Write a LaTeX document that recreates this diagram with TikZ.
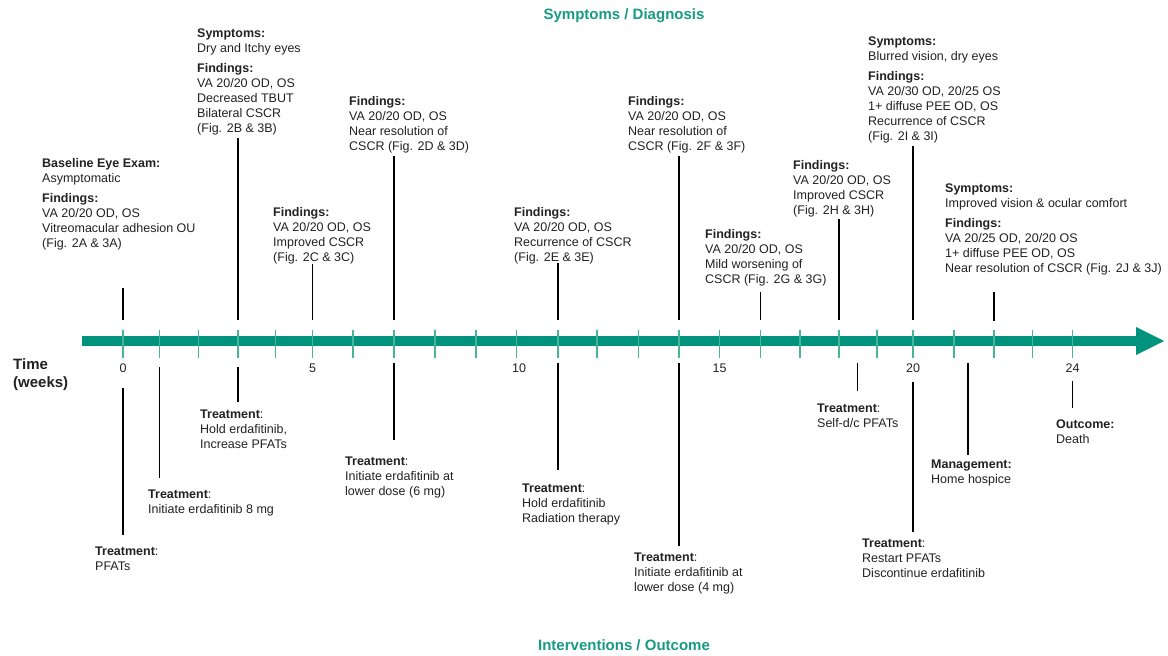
\documentclass[tikz,border=0pt]{standalone}
\usepackage{fontspec}
\setmainfont{Liberation Sans}
\definecolor{tealbar}{RGB}{0,148,126}
\definecolor{tealtick}{RGB}{72,180,154}
\definecolor{tealtxt}{RGB}{24,155,130}
\definecolor{txtgray}{RGB}{34,34,34}
\begin{document}
\begin{tikzpicture}[x=1pt,y=-1pt,
  txt/.style={font=\fontsize{12.5}{15}\selectfont, align=left, inner sep=0pt, anchor=north west, text=txtgray},
  num/.style={font=\fontsize{12.5}{14}\selectfont, inner sep=0pt, text=txtgray},
  ttl/.style={font=\fontsize{15}{17}\selectfont\bfseries, inner sep=0pt, text=tealtxt},
  timelbl/.style={font=\fontsize{15}{18}\selectfont\bfseries, align=left, inner sep=0pt, anchor=north west, text=txtgray},
  conn/.style={line width=1.6pt, black},
  tickmark/.style={line width=1.8pt, tealtick}]
\useasboundingbox (0,0) rectangle (1168,656);
\fill[white] (0,0) rectangle (1168,656);

% axis
\fill[tealbar] (82,336) rectangle (1137,345.5);
\fill[tealbar] (1136,327) -- (1164,341) -- (1136,355) -- cycle;
\foreach \i/\x in {0/123,1/159.5,2/198.5,3/237.7,4/275.5,5/312.5,6/353,7/394,8/435,9/476,10/516.5,11/558,12/597,13/638.5,14/679,15/719.5,16/760.5,17/800,18/839,19/877,20/913,21/954,22/994,23/1032.5,24/1072.5}{
  \coordinate (w\i) at (\x,341);
  \draw[tickmark] (\x,330) -- (\x,358);
}
\coordinate (e18h) at (857.5,341);
\coordinate (e21h) at (968,341);

% week numbers
\node[num] (l0) at (w0 |- 0,368) {0};
\node[num] (l5) at (w5 |- 0,368) {5};
\node[num] (l10) at (519,368) {10};
\node[num] (l15) at (w15 |- 0,368) {15};
\node[num] (l20) at (w20 |- 0,368) {20};
\node[num] (l24) at (w24 |- 0,368) {24};

\node[timelbl] (time) at (13,358) {Time\\(weeks)};

% titles
\node[ttl] (ttop) at (624,16) {Symptoms / Diagnosis};
\node[ttl] (tbot) at (624,645) {Interventions / Outcome};

% upper blocks
\node[txt] (b0) at (42,158) {\textbf{Baseline Eye Exam:}\\ Asymptomatic\\[5pt] \textbf{Findings:}\\ VA 20/20 OD, OS\\ Vitreomacular adhesion OU\\ (Fig. 2A \& 3A)};
\node[txt] (b3) at (197,29) {\textbf{Symptoms:}\\ Dry and Itchy eyes\\[5pt] \textbf{Findings:}\\ VA 20/20 OD, OS\\ Decreased TBUT\\ Bilateral CSCR\\ (Fig. 2B \& 3B)};
\node[txt] (b5) at (273,207) {\textbf{Findings:}\\ VA 20/20 OD, OS\\ Improved CSCR\\ (Fig. 2C \& 3C)};
\node[txt] (b7) at (349,96) {\textbf{Findings:}\\ VA 20/20 OD, OS\\ Near resolution of\\ CSCR (Fig. 2D \& 3D)};
\node[txt] (b11) at (514,207) {\textbf{Findings:}\\ VA 20/20 OD, OS\\ Recurrence of CSCR\\ (Fig. 2E \& 3E)};
\node[txt] (b14) at (628,96) {\textbf{Findings:}\\ VA 20/20 OD, OS\\ Near resolution of\\ CSCR (Fig. 2F \& 3F)};
\node[txt] (b16) at (705,229) {\textbf{Findings:}\\ VA 20/20 OD, OS\\ Mild worsening of\\ CSCR (Fig. 2G \& 3G)};
\node[txt] (b18) at (793,160) {\textbf{Findings:}\\ VA 20/20 OD, OS\\ Improved CSCR\\ (Fig. 2H \& 3H)};
\node[txt] (b20) at (868,37) {\textbf{Symptoms:}\\ Blurred vision, dry eyes\\[5pt] \textbf{Findings:}\\ VA 20/30 OD, 20/25 OS\\ 1+ diffuse PEE OD, OS\\ Recurrence of CSCR\\ (Fig. 2I \& 3I)};
\node[txt] (b22) at (945,184) {\textbf{Symptoms:}\\ Improved vision \& ocular comfort\\[5pt] \textbf{Findings:}\\ VA 20/25 OD, 20/20 OS\\ 1+ diffuse PEE OD, OS\\ Near resolution of CSCR (Fig. 2J \& 3J)};

% lower blocks
\node[txt] (t0) at (95,547) {\textbf{Treatment}:\\ PFATs};
\node[txt] (t1) at (148,490) {\textbf{Treatment}:\\ Initiate erdafitinib 8 mg};
\node[txt] (t3) at (200,410) {\textbf{Treatment}:\\ Hold erdafitinib,\\ Increase PFATs};
\node[txt] (t7) at (345,457) {\textbf{Treatment}:\\ Initiate erdafitinib at\\ lower dose (6 mg)};
\node[txt] (t11) at (522,484) {\textbf{Treatment}:\\ Hold erdafitinib\\ Radiation therapy};
\node[txt] (t14) at (634,553) {\textbf{Treatment}:\\ Initiate erdafitinib at\\ lower dose (4 mg)};
\node[txt] (t18) at (817,404) {\textbf{Treatment}:\\ Self-d/c PFATs};
\node[txt] (t20) at (862,539) {\textbf{Treatment}:\\ Restart PFATs\\ Discontinue erdafitinib};
\node[txt] (t21) at (931,460) {\textbf{Management:}\\ Home hospice};
\node[txt] (t24) at (1056,420) {\textbf{Outcome:}\\ Death};

% upper connectors
\draw[conn] (w0 |- 0,288) -- (w0 |- 0,320);
\draw[conn] (w3 |- 0,138) -- (w3 |- 0,320);
\draw[conn] (w5 |- 0,264) -- (w5 |- 0,320);
\draw[conn] (w7 |- 0,156) -- (w7 |- 0,320);
\draw[conn] (w11 |- 0,263) -- (w11 |- 0,320);
\draw[conn] (w14 |- 0,156) -- (w14 |- 0,320);
\draw[conn] (w16 |- 0,292) -- (w16 |- 0,320);
\draw[conn] (w18 |- 0,219) -- (w18 |- 0,320);
\draw[conn] (w20 |- 0,146) -- (w20 |- 0,320);
\draw[conn] (w22 |- 0,292) -- (w22 |- 0,321);

% lower connectors
\draw[conn] (w0 |- 0,388) -- (w0 |- 0,535);
\draw[conn] (w1 |- 0,367) -- (w1 |- 0,478);
\draw[conn] (w3 |- 0,367) -- (w3 |- 0,402);
\draw[conn] (w7 |- 0,363) -- (w7 |- 0,440);
\draw[conn] (w11 |- 0,363) -- (w11 |- 0,470);
\draw[conn] (w14 |- 0,363) -- (w14 |- 0,546);
\draw[conn] (e18h |- 0,363) -- (e18h |- 0,391);
\draw[conn] (w20 |- 0,382) -- (w20 |- 0,532);
\draw[conn] (e21h |- 0,363) -- (e21h |- 0,455);
\draw[conn] (w24 |- 0,381) -- (w24 |- 0,408);
\end{tikzpicture}
\end{document}
